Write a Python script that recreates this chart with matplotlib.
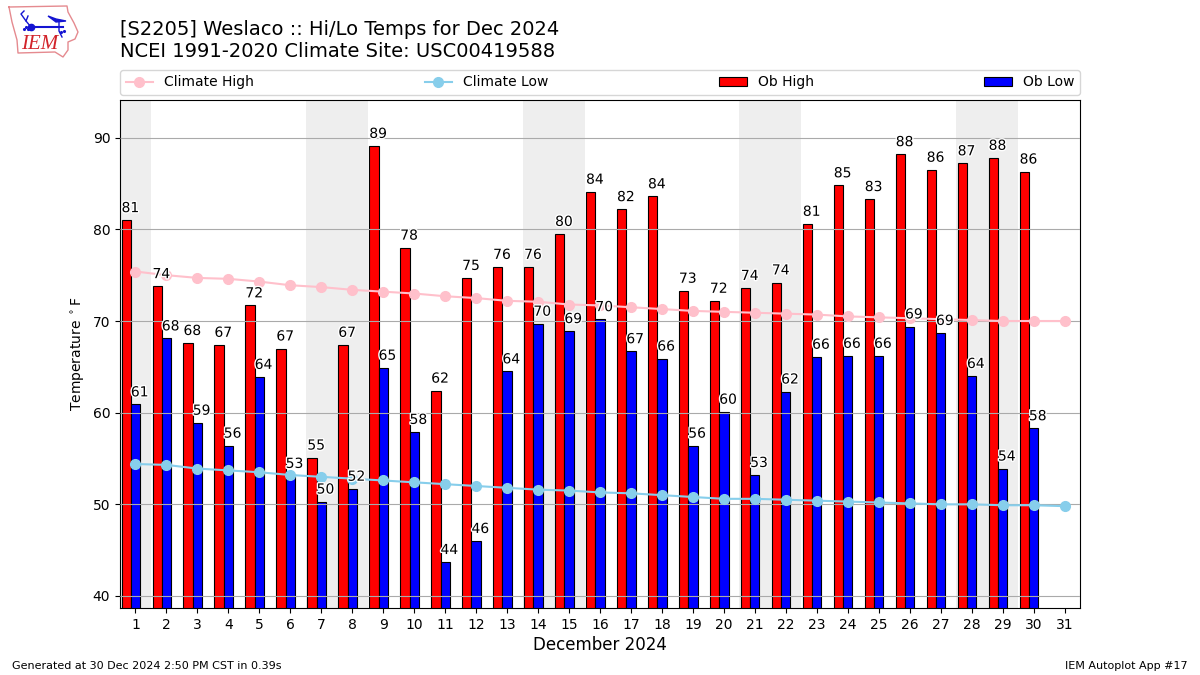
"""Weslaco daily hi/lo temps vs climatology, Dec 2024 (IEM autoplot 17 look-alike)."""

import matplotlib
matplotlib.use("Agg")
import matplotlib.patheffects as pe
import matplotlib.pyplot as plt
import numpy as np

days = np.arange(1, 32)
weekend_spans = [(0.5, 1.5), (6.5, 8.5), (13.5, 15.5), (20.5, 22.5), (27.5, 29.5)]

ob_high = [81.0, 73.8, 67.6, 67.4, 71.7, 67.0, 55.1, 67.4, 89.1, 78.0,
           62.4, 74.7, 75.9, 75.9, 79.5, 84.1, 82.2, 83.6, 73.3, 72.2,
           73.6, 74.2, 80.6, 84.8, 83.3, 88.2, 86.5, 87.2, 87.8, 86.3]
ob_low = [60.9, 68.1, 58.9, 56.4, 63.9, 53.1, 50.3, 51.7, 64.9, 57.9,
          43.7, 46.0, 64.5, 69.7, 68.9, 70.2, 66.7, 65.9, 56.4, 60.1,
          53.2, 62.3, 66.1, 66.2, 66.2, 69.4, 68.7, 64.0, 53.9, 58.3]
climate_high = [75.4, 75.0, 74.7, 74.6, 74.3, 73.9, 73.7, 73.4, 73.2, 73.0,
                72.7, 72.5, 72.2, 72.1, 71.8, 71.7, 71.5, 71.3, 71.1, 71.0,
                70.9, 70.8, 70.7, 70.5, 70.4, 70.3, 70.2, 70.1, 70.0, 70.0, 70.0]
climate_low = [54.4, 54.3, 53.9, 53.7, 53.5, 53.2, 53.0, 52.8, 52.6, 52.4,
               52.2, 52.0, 51.8, 51.6, 51.5, 51.3, 51.2, 51.0, 50.8, 50.6,
               50.6, 50.5, 50.4, 50.3, 50.2, 50.1, 50.0, 50.0, 49.9, 49.9, 49.8]

# logo outline and glyph, in figure pixels
logo_outline = [(9, 7), (67, 6), (68, 12), (74, 23), (78, 32), (75, 39), (68, 42),
                (68, 50), (63, 57), (55, 52), (18, 53), (17, 40), (12, 22), (9, 7)]
logo_bar = [(31, 27), (63, 27)]
logo_wing = [(48, 16), (56, 19), (66, 21), (56, 22), (48, 16)]
logo_vane = [(26, 21), (31, 27)]
logo_fork = [(24, 11), (21, 14), (26, 21), (28, 16)]
logo_drop = [(59, 22), (59, 31), (62, 37)]
logo_dots = [(24, 29), (26, 27), (28, 29), (61, 32), (64, 31)]


def main():
    fig = plt.figure(figsize=(12, 6.75), dpi=100)
    ax = fig.add_axes([120 / 1200, 1 - 608 / 675, 960 / 1200, 508 / 675])

    for start, end in weekend_spans:
        ax.axvspan(start, end, color="#EEEEEE", lw=0, zorder=0)

    width = 0.3
    high_x = days[:len(ob_high)] - 0.3
    low_x = days[:len(ob_low)]
    ax.bar(high_x, ob_high, width, color="red", edgecolor="black", lw=0.8, label="Ob High", zorder=2)
    ax.bar(low_x, ob_low, width, color="blue", edgecolor="black", lw=0.8, label="Ob Low", zorder=2)
    ax.yaxis.grid(True, color="#AAAAAA", lw=0.8, zorder=3)
    ax.set_axisbelow(False)

    ax.plot(days, climate_high, color="pink", marker="o", lw=1.5, ms=7, label="Climate High", zorder=4)
    ax.plot(days, climate_low, color="skyblue", marker="o", lw=1.5, ms=7, label="Climate Low", zorder=4)

    stroke = [pe.withStroke(linewidth=2, foreground="white")]
    for xs, vals in ((high_x, ob_high), (low_x, ob_low)):
        for x, val in zip(xs, vals):
            ax.text(x - width / 2, val + 0.55, f"{val:.0f}", ha="left", va="bottom",
                    fontsize=10, path_effects=stroke, zorder=5)

    ax.set_xlim(0.5, 31.5)
    ax.set_ylim(38.69, 94.11)
    ax.set_xticks(days)
    ax.set_yticks(np.arange(40, 91, 10))
    ax.set_xlabel("December 2024", fontsize=12, labelpad=3)
    ax.set_ylabel(r"Temperature $^\circ$F")

    handles, labels = ax.get_legend_handles_labels()
    order = [labels.index(n) for n in ("Climate High", "Climate Low", "Ob High", "Ob Low")]
    ax.legend([handles[i] for i in order], [labels[i] for i in order], ncol=4, mode="expand",
              loc="lower left", bbox_to_anchor=(0, 1.01, 1, 0.05), borderaxespad=0)

    fig.text(120 / 1200, 1 - 61 / 675, "[S2205] Weslaco :: Hi/Lo Temps for Dec 2024\n"
             "NCEI 1991-2020 Climate Site: USC00419588", fontsize=14, ha="left", va="bottom")
    fig.text(12 / 1200, 1 - 666 / 675, "Generated at 30 Dec 2024 2:50 PM CST in 0.39s",
             fontsize=8, va="center")
    fig.text(1188 / 1200, 1 - 666 / 675, "IEM Autoplot App #17", fontsize=8, ha="right", va="center")

    logo = fig.add_axes([0, 0, 1, 1], facecolor="none")
    logo.set_xlim(0, 1200)
    logo.set_ylim(675, 0)
    logo.set_axis_off()
    blue = "#1414D2"
    logo.plot(*zip(*logo_outline), color="#E58A8F", lw=1)
    logo.plot(*zip(*logo_bar), color=blue, lw=1.5)
    logo.fill(*zip(*logo_wing), color=blue)
    logo.plot(*zip(*logo_vane), color=blue, lw=1)
    logo.plot(*zip(*logo_fork), color=blue, lw=1)
    logo.plot(*zip(*logo_drop), color=blue, lw=1)
    logo.plot(*zip(*logo_dots), ls="none", marker=".", color=blue, ms=2.5)
    logo.plot([31], [27], "o", color=blue, ms=4.5)
    logo.text(21, 44.5, "IEM", color="#D2232A", fontsize=15, family="Liberation Serif",
              style="italic", ha="left", va="center")

    fig.savefig("out.png", dpi=100)
    plt.close(fig)


if __name__ == "__main__":
    main()
